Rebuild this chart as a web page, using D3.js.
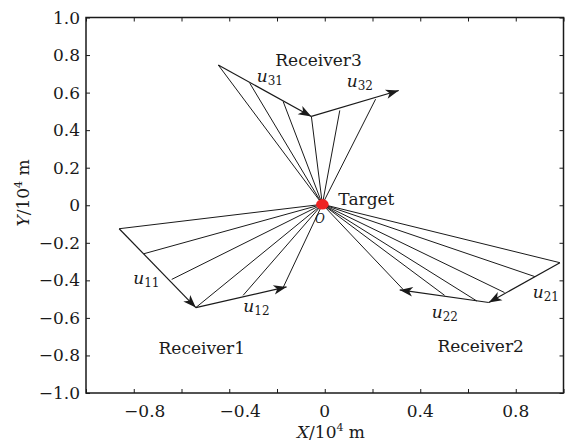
<!DOCTYPE html>
<html>
<head>
<meta charset="utf-8">
<script src="https://cdn.jsdelivr.net/npm/d3@7"></script>
<style>
  body { margin: 0; background: #fff; }
  text { font-family: "DejaVu Serif", serif; fill: #1a1a1a; }
  .fan { stroke: #1a1a1a; stroke-width: 1; fill: none; }
  .arrow { stroke: #1a1a1a; stroke-width: 1.2; fill: none; }
</style>
</head>
<body>
<script>
// target position (x, y in 10^4 m)
var target = [-0.01, 0.005];

// end points of the lines from the target, per receiver
var fan1 = [[-0.861, -0.125], [-0.757, -0.258], [-0.641, -0.395], [-0.540, -0.545], [-0.342, -0.480], [-0.175, -0.440]];
var fan2 = [[0.985, -0.306], [0.880, -0.380], [0.753, -0.465], [0.637, -0.510], [0.502, -0.480], [0.328, -0.448]];
var fan3 = [[-0.446, 0.747], [-0.314, 0.650], [-0.174, 0.552], [-0.056, 0.473], [0.063, 0.505], [0.213, 0.565]];

// arrows: [from, to]
var arrows1 = [[[-0.861, -0.125], [-0.540, -0.545]], [[-0.540, -0.545], [-0.160, -0.435]]];
var arrows2 = [[[0.985, -0.306], [0.687, -0.518]], [[0.687, -0.518], [0.314, -0.451]]];
var arrows3 = [[[-0.446, 0.747], [-0.056, 0.473]], [[-0.056, 0.473], [0.310, 0.611]]];

// labels
var receiverLabels = [
    {text: "Receiver1", x: -0.515, y: -0.792},
    {text: "Receiver2", x: 0.653, y: -0.780},
    {text: "Receiver3", x: -0.026, y: 0.742}
];
var vectorLabels = [
    {sub: "11", x: -0.802, y: -0.419},
    {sub: "12", x: -0.341, y: -0.566},
    {sub: "21", x: 0.871, y: -0.496},
    {sub: "22", x: 0.448, y: -0.603},
    {sub: "31", x: -0.285, y: 0.656},
    {sub: "32", x: 0.092, y: 0.628}
];

var xTicks = [-1, -0.8, -0.6, -0.4, -0.2, 0, 0.2, 0.4, 0.6, 0.8, 1];
var xTickLabels = [-0.8, -0.4, 0, 0.4, 0.8];
var yTicks = [-1, -0.8, -0.6, -0.4, -0.2, 0, 0.2, 0.4, 0.6, 0.8, 1];

var width = 571, height = 448;
var x = d3.scaleLinear().domain([-1, 1]).range([86, 563.5]);
var y = d3.scaleLinear().domain([-1, 1]).range([393, 17.5]);

var svg = d3.select("body").append("svg")
    .attr("width", width)
    .attr("height", height);

svg.append("defs").append("marker")
    .attr("id", "head")
    .attr("markerUnits", "userSpaceOnUse")
    .attr("viewBox", "-14 -6 16 12")
    .attr("markerWidth", 16)
    .attr("markerHeight", 12)
    .attr("refX", 0)
    .attr("refY", 0)
    .attr("orient", "auto")
    .append("path")
    .attr("d", "M0,0 L-13,-4.8 L-9.5,0 L-13,4.8 Z")
    .style("fill", "#1a1a1a");

function fmt(d) {
    if (d === 0) return "0";
    return (d < 0 ? "\u2212" : "") + Math.abs(d).toFixed(1);
}

// axes box with inward ticks on all sides
var tl = 4;
svg.append("g")
    .attr("transform", "translate(0," + y(-1) + ")")
    .call(d3.axisBottom(x).tickValues(xTicks).tickSize(-tl).tickFormat(""))
    .call(g => g.select(".domain").remove());
svg.append("g")
    .attr("transform", "translate(0," + y(1) + ")")
    .call(d3.axisTop(x).tickValues(xTicks).tickSize(-tl).tickFormat(""))
    .call(g => g.select(".domain").remove());
svg.append("g")
    .attr("transform", "translate(" + x(-1) + ",0)")
    .call(d3.axisLeft(y).tickValues(yTicks).tickSize(-tl).tickFormat(""))
    .call(g => g.select(".domain").remove());
svg.append("g")
    .attr("transform", "translate(" + x(1) + ",0)")
    .call(d3.axisRight(y).tickValues(yTicks).tickSize(-tl).tickFormat(""))
    .call(g => g.select(".domain").remove());
svg.selectAll(".tick line").style("stroke", "#1a1a1a");

svg.append("rect")
    .attr("x", x(-1))
    .attr("y", y(1))
    .attr("width", x(1) - x(-1))
    .attr("height", y(-1) - y(1))
    .style("fill", "none")
    .style("stroke", "#1a1a1a")
    .style("stroke-width", 1.5);

// tick labels
svg.selectAll(".xlab")
    .data(xTickLabels)
    .enter()
    .append("text")
    .attr("x", d => x(d) + (d < 0 ? 11 : 0))
    .attr("y", 417)
    .attr("text-anchor", "middle")
    .style("font-size", "17px")
    .text(fmt);

svg.selectAll(".ylab")
    .data(yTicks)
    .enter()
    .append("text")
    .attr("x", 80)
    .attr("y", d => y(d) + 6)
    .attr("text-anchor", "end")
    .style("font-size", "17px")
    .text(fmt);

// axis titles
var xt = svg.append("text")
    .attr("x", 331)
    .attr("y", 438)
    .attr("text-anchor", "middle")
    .style("font-size", "17px");
xt.append("tspan").style("font-style", "italic").text("X");
xt.append("tspan").text("/10");
xt.append("tspan").attr("dy", -7).style("font-size", "11px").text("4");
xt.append("tspan").attr("dy", 7).text(" m");

var yt = svg.append("text")
    .attr("transform", "translate(29,193) rotate(-90)")
    .attr("text-anchor", "middle")
    .style("font-size", "17px");
yt.append("tspan").style("font-style", "italic").text("Y");
yt.append("tspan").text("/10");
yt.append("tspan").attr("dy", -7).style("font-size", "11px").text("4");
yt.append("tspan").attr("dy", 7).text(" m");

// lines from the target to each receiver
var fans = [fan1, fan2, fan3];
fans.forEach(function (fan) {
    svg.selectAll(null)
        .data(fan)
        .enter()
        .append("line")
        .attr("class", "fan")
        .attr("x1", x(target[0]))
        .attr("y1", y(target[1]))
        .attr("x2", d => x(d[0]))
        .attr("y2", d => y(d[1]));
});

var arrows = arrows1.concat(arrows2, arrows3);
svg.selectAll(null)
    .data(arrows)
    .enter()
    .append("line")
    .attr("class", "arrow")
    .attr("x1", d => x(d[0][0]))
    .attr("y1", d => y(d[0][1]))
    .attr("x2", d => x(d[1][0]))
    .attr("y2", d => y(d[1][1]))
    .attr("marker-end", "url(#head)");

// target
svg.append("ellipse")
    .attr("cx", x(target[0]))
    .attr("cy", y(target[1]))
    .attr("rx", 6.3)
    .attr("ry", 5.2)
    .style("fill", "#ee2222");

svg.append("text")
    .attr("x", x(target[0]) + 16)
    .attr("y", y(0))
    .style("font-size", "17px")
    .text("Target");

svg.append("text")
    .attr("x", x(-0.02))
    .attr("y", y(-0.092))
    .attr("text-anchor", "middle")
    .style("font-size", "12px")
    .style("font-style", "italic")
    .text("O");

svg.selectAll(".rlab")
    .data(receiverLabels)
    .enter()
    .append("text")
    .attr("x", d => x(d.x))
    .attr("y", d => y(d.y))
    .attr("text-anchor", "middle")
    .style("font-size", "17px")
    .text(d => d.text);

var ul = svg.selectAll(".ulab")
    .data(vectorLabels)
    .enter()
    .append("text")
    .attr("x", d => x(d.x))
    .attr("y", d => y(d.y))
    .style("font-size", "17px");
ul.append("tspan").style("font-style", "italic").text("u");
ul.append("tspan").attr("dy", 3).style("font-size", "12px").text(d => d.sub);
</script>
</body>
</html>
